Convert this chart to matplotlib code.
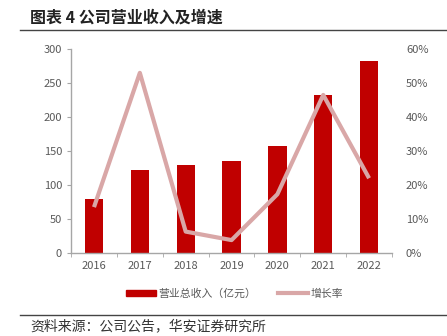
import matplotlib
matplotlib.use("Agg")
import matplotlib.pyplot as plt
from matplotlib.lines import Line2D
from matplotlib.patches import Patch

plt.rcParams['font.family'] = ['Noto Sans CJK SC', 'DejaVu Sans']

years = ["2016", "2017", "2018", "2019", "2020", "2021", "2022"]
revenue = [80, 122, 130, 135, 158, 232, 283]
growth = [13.5, 53, 6.3, 3.8, 17.3, 46.5, 22]

bar_color = "#C00000"
line_color = "#D9A7A7"
tick_color = "#595959"
spine_color = "#A6A6A6"

fig = plt.figure(figsize=(4.47, 3.36), dpi=100)
ax = fig.add_axes([0.159, 0.247, 0.718, 0.607])
x = list(range(len(years)))
ax.bar(x, revenue, width=0.4, color=bar_color, zorder=2)
ax.set_xlim(-0.5, len(years) - 0.5)
ax.set_ylim(0, 300)
ax.set_yticks(range(0, 301, 50))
ax.set_xticks(x)
ax.set_xticklabels(years)
ax.set_xticks([i + 0.5 for i in range(-1, len(years))], minor=True)
ax.tick_params(axis='x', which='major', length=0, pad=6, labelsize=8, labelcolor=tick_color)
ax.tick_params(axis='x', which='minor', length=3, color=spine_color, direction='out')
ax.tick_params(axis='y', length=3, color=spine_color, labelsize=8, labelcolor=tick_color)
for s in ['top', 'right']:
    ax.spines[s].set_visible(False)
for s in ['left', 'bottom']:
    ax.spines[s].set_color(spine_color)
    ax.spines[s].set_linewidth(1)

ax2 = ax.twinx()
ax2.plot(x, growth, color=line_color, linewidth=3, solid_capstyle='butt', zorder=3)
ax2.set_ylim(0, 60)
ax2.set_yticks(range(0, 61, 10))
ax2.set_yticklabels([f"{v}%" for v in range(0, 61, 10)])
ax2.tick_params(axis='y', length=0, pad=10, labelsize=8, labelcolor=tick_color)
for s in ['top', 'right', 'left', 'bottom']:
    ax2.spines[s].set_visible(False)

handles = [Patch(color=bar_color), Line2D([0], [0], color=line_color, linewidth=3)]
fig.legend(handles, ["营业总收入（亿元）", "增长率"], loc='center', bbox_to_anchor=(0.525, 0.127),
           ncol=2, frameon=False, fontsize=7.8, handlelength=2.8, handleheight=0.5,
           columnspacing=2.0, handletextpad=0.2, labelcolor=tick_color)

fig.text(0.067, 0.947, "图表 4 公司营业收入及增速", fontsize=11.5, fontweight='bold', va='center', color='#222222')
fig.add_artist(Line2D([0.045, 1.0], [0.91, 0.91], color='#444444', linewidth=1))
fig.add_artist(Line2D([0.045, 1.0], [1 - 315/336, 1 - 315/336], color='#444444', linewidth=1))
fig.text(0.067, 1 - 326/336, "资料来源：公司公告，华安证券研究所", fontsize=10, va='center', color='#333333')

fig.savefig("out.png", dpi=100)
